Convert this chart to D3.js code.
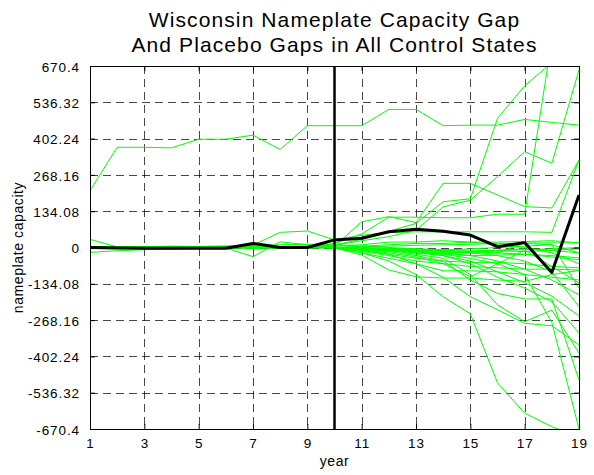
<!DOCTYPE html>
<html>
<head>
<meta charset="utf-8">
<script src="https://cdn.jsdelivr.net/npm/d3@7/dist/d3.min.js"></script>
<style>
  html, body { margin: 0; padding: 0; background: #fff; }
  svg { display: block; }
  text { font-family: "Liberation Sans", Arial, Helvetica, sans-serif; fill: #000; }
</style>
</head>
<body>
<svg id="chart" width="594" height="475"></svg>
<script>
// ---- data ----
const years = [1,2,3,4,5,6,7,8,9,10,11,12,13,14,15,16,17,18,19];
const xTickValues = [1,3,5,7,9,11,13,15,17,19];
const yTickValues = [670.4,536.32,402.24,268.16,134.08,0,-134.08,-268.16,-402.24,-536.32,-670.4];
const yTickLabels = ["670.4","536.32","402.24","268.16","134.08","0","-134.08","-268.16","-402.24","-536.32","-670.4"];
const treatmentYear = 10;
const titleLines = ["Wisconsin Nameplate Capacity Gap", "And Placebo Gaps in All Control States"];
const xLabel = "year";
const yLabel = "nameplate capacity";

const wisconsin = [0,-2,-3,-3,-3,-3,15,0,0,28,34,58,67,60,46,3,18,-92,194];

const placebo01 = [210,370,370,368,400,400,415,362,450,450,450,510,510,450,452,452,473,462,452];
const placebo02 = [2,0,1,2,1,3,2,4,6,10,30,60,89,169,180,477,597,683,720];
const placebo03 = [-4,-3,-2,0,0,1,2,3,4,15,50,112,112,110,110,123,123,766,800];
const placebo04 = [3,1,2,0,-1,2,0,1,3,8,25,40,64,150,175,262,354,311,656];
const placebo05 = [-2,-1,0,1,0,1,-1,0,2,6,10,20,20,25,20,10,0,-20,-60];
const placebo06 = [0,1,-1,0,1,0,-1,1,0,5,95,114,92,237,237,194,151,146,323];
const placebo07 = [0,1,0,0,-1,-2,9,56,61,28,45,55,58,58,58,58,58,56,323];
const placebo08 = [30,2,3,5,4,6,8,10,12,10,5,0,-5,-10,-15,-10,-5,-10,-20];
const placebo09 = [-18,-12,-8,-6,-4,-2,-3,-1,0,2,-10,-25,-40,-50,-55,-55,-60,-70,-75];
const placebo10 = [2,0,-1,0,-1,-2,-34,21,10,-3,-20,-40,-60,-86,-86,-90,-100,-110,-120];
const placebo11 = [1,0,1,1,2,1,2,1,2,0,-5,-8,-12,-18,-20,-20,17,17,17];
const placebo12 = [-1,0,0,1,0,1,0,-1,0,2,-8,-12,-15,-20,-18,-12,-8,-5,0];
const placebo13 = [0,-1,0,0,1,0,1,0,-1,1,-3,-10,-20,-25,-30,-28,-25,-30,-38];
const placebo14 = [1,0,-1,0,0,-1,0,1,1,-1,-15,-30,-50,-60,-70,-75,-80,-80,-83];
const placebo15 = [0,1,0,-1,0,1,0,-1,0,0,-20,-50,-100,-182,-245,-500,-612,-662,-700];
const placebo16 = [-1,0,1,0,-1,0,1,0,-1,0,-10,-25,-60,-110,-182,-230,-280,-289,-360];
const placebo17 = [0,0,1,-1,0,1,-1,0,1,-1,-5,-15,-30,-50,-120,-170,-190,-190,-489];
const placebo18 = [1,-1,0,0,1,0,0,-1,0,1,-5,-10,-25,-40,-100,-212,-274,-231,-390];
const placebo19 = [0,1,-1,0,0,-1,1,0,0,-1,-3,-8,-15,-25,-40,-60,-100,-277,-670];
const placebo20 = [-1,0,0,1,-1,0,0,1,-1,0,-5,-10,-20,-30,-60,-110,-150,-200,-316];
const placebo21 = [0,-1,1,0,0,0,-1,0,1,-1,-4,-8,-15,-30,-50,-90,-130,-180,-253];
const placebo22 = [1,0,0,-1,0,1,0,0,-1,0,-4,-10,-15,-20,-30,-50,-80,-120,-175];
const placebo23 = [0,1,0,0,-1,0,1,-1,0,1,-2,-6,-10,-15,-20,-30,-50,-90,-219];
const placebo24 = [0,0,-1,1,0,0,-1,1,0,-1,-5,-8,-12,-10,-5,0,5,10,-150];
const placebo25 = [-1,1,0,0,0,1,0,0,1,0,3,5,8,10,12,15,15,10,-20];
const placebo26 = [1,0,0,0,1,-1,0,1,0,0,5,10,15,15,20,20,22,25,17];
const placebo27 = [0,0,1,0,-1,0,0,0,-1,1,-10,-20,-35,-60,-108,-60,-10,-70,-131];
const placebo28 = [0,1,0,-1,0,0,1,0,0,0,-2,-5,-8,-12,-15,-20,-25,-35,-45];
const placebo29 = [1,0,0,0,0,1,0,-1,0,0,0,-3,-5,-8,-10,-12,-15,-10,-5];
const placebo30 = [0,-1,0,1,0,0,0,1,0,-1,-28,-83,-108,-113,-113,-120,-125,-100,-85];

const placebos = [placebo01,placebo02,placebo03,placebo04,placebo05,placebo06,placebo07,placebo08,placebo09,placebo10,
  placebo11,placebo12,placebo13,placebo14,placebo15,placebo16,placebo17,placebo18,placebo19,placebo20,
  placebo21,placebo22,placebo23,placebo24,placebo25,placebo26,placebo27,placebo28,placebo29,placebo30];

// ---- layout ----
const mLeft = 90, mRight = 579, mTop = 66, mBottom = 429;
const svg = d3.select("#chart");

const x = d3.scaleLinear().domain([1, 19]).range([mLeft, mRight]);
const y = d3.scaleLinear().domain([-670.4, 670.4]).range([mBottom, mTop]);

svg.append("defs").append("clipPath").attr("id", "plotclip")
  .append("rect").attr("x", mLeft).attr("y", mTop).attr("width", mRight - mLeft).attr("height", mBottom - mTop);

// grid
const grid = svg.append("g").attr("stroke", "#000").attr("stroke-opacity", 0.72)
  .attr("stroke-width", 1).attr("stroke-dasharray", "8,5").attr("fill", "none");
xTickValues.filter(v => v !== 1 && v !== 19).forEach(v => {
  grid.append("line").attr("x1", Math.round(x(v)) + 0.5).attr("x2", Math.round(x(v)) + 0.5)
    .attr("y1", mTop).attr("y2", mBottom);
});
yTickValues.filter(v => Math.abs(v) < 670).forEach(v => {
  grid.append("line").attr("y1", Math.round(y(v)) + 0.5).attr("y2", Math.round(y(v)) + 0.5)
    .attr("x1", mLeft).attr("x2", mRight);
});

// lines
const line = d3.line().x((d, i) => x(years[i])).y(d => y(d));
const plot = svg.append("g").attr("clip-path", "url(#plotclip)");
placebos.forEach(s => {
  plot.append("path").datum(s).attr("d", line)
    .attr("fill", "none").attr("stroke", "#00ff00").attr("stroke-width", 1);
});
plot.append("path").datum(wisconsin).attr("d", line)
  .attr("fill", "none").attr("stroke", "#000").attr("stroke-width", 3).attr("stroke-linejoin", "round");

// treatment line
svg.append("line").attr("x1", x(treatmentYear)).attr("x2", x(treatmentYear))
  .attr("y1", mTop).attr("y2", mBottom).attr("stroke", "#000").attr("stroke-width", 2.5);

// axes (MATLAB-style inward ticks on all sides)
const tickLen = 5;
const axisG = svg.append("g");
const xAxisB = d3.axisBottom(x).tickValues(xTickValues).tickSize(-tickLen).tickPadding(9).tickFormat(d3.format("d"));
const xAxisT = d3.axisTop(x).tickValues(xTickValues).tickSize(-tickLen).tickFormat("");
const yAxisL = d3.axisLeft(y).tickValues(yTickValues).tickSize(-tickLen).tickPadding(10)
  .tickFormat((d, i) => yTickLabels[i]);
const yAxisR = d3.axisRight(y).tickValues(yTickValues).tickSize(-tickLen).tickFormat("");

const gxb = axisG.append("g").attr("transform", `translate(0,${mBottom})`).call(xAxisB);
const gxt = axisG.append("g").attr("transform", `translate(0,${mTop})`).call(xAxisT);
const gyl = axisG.append("g").attr("transform", `translate(${mLeft},0)`).call(yAxisL);
const gyr = axisG.append("g").attr("transform", `translate(${mRight},0)`).call(yAxisR);
[gxb, gxt, gyl, gyr].forEach(g => {
  g.select(".domain").attr("stroke", "#000").attr("stroke-width", 1);
  g.selectAll(".tick line").attr("stroke", "#000");
  g.selectAll("text").attr("font-family", '"Liberation Sans", Arial, sans-serif')
    .attr("font-size", 13.5).attr("letter-spacing", "0.9px").attr("fill", "#000");
});
gyl.selectAll("text").attr("dy", "0.38em");
gxb.selectAll("text").attr("dy", "0.71em");

// title
svg.append("text").attr("x", (mLeft + mRight) / 2).attr("y", 26.7).attr("text-anchor", "middle")
  .attr("font-size", 21).attr("letter-spacing", "1.1px").text(titleLines[0]);
svg.append("text").attr("x", (mLeft + mRight) / 2).attr("y", 51.7).attr("text-anchor", "middle")
  .attr("font-size", 21).attr("letter-spacing", "1.1px").text(titleLines[1]);

// axis labels
svg.append("text").attr("x", (mLeft + mRight) / 2).attr("y", 466).attr("text-anchor", "middle")
  .attr("font-size", 14).attr("letter-spacing", "0.6px").text(xLabel);
svg.append("text").attr("transform", `translate(22.5,${(mTop + mBottom) / 2}) rotate(-90)`)
  .attr("text-anchor", "middle").attr("font-size", 14).attr("letter-spacing", "0.6px").text(yLabel);
</script>
</body>
</html>
